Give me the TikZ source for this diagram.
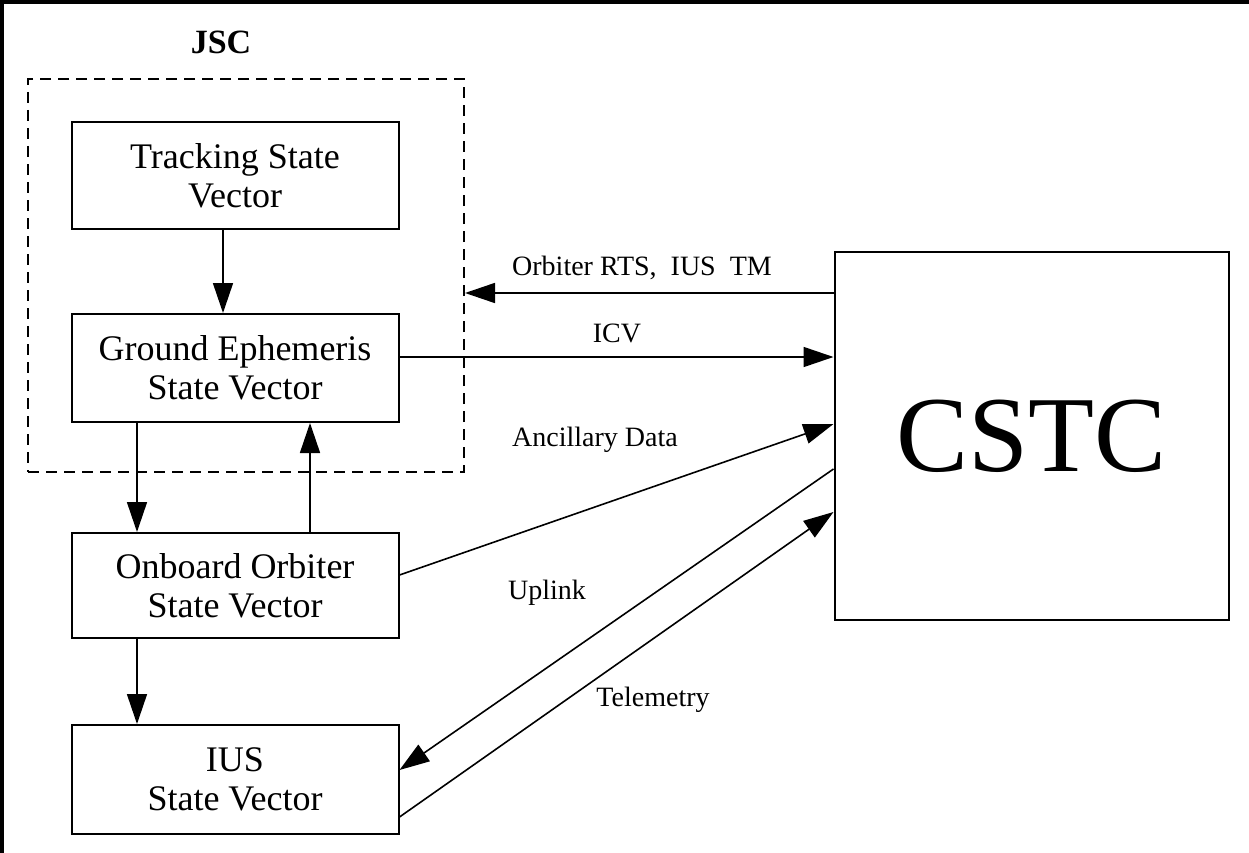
\documentclass[tikz,border=0pt]{standalone}
\usepackage{fontspec}
\setmainfont{Liberation Serif}
\usetikzlibrary{arrows.meta,calc}
\begin{document}
\begin{tikzpicture}[x=1pt,y=-1pt,
  box/.style={draw,line width=2pt,minimum width=327pt,align=center,
    font=\fontsize{36}{39}\selectfont,inner sep=0pt},
  lbl/.style={font=\fontsize{28}{32}\selectfont,inner sep=0pt},
  arr/.style={line width=1.6pt,-{Triangle[length=30pt,width=20pt]}},
  frame/.style={line width=4pt}]
\useasboundingbox (0,0) rectangle (1249,853);
% outer frame (top and left only)
\draw[frame] (0,2) -- (1249,2);
\draw[frame] (2,0) -- (2,853);
% JSC group
\node[font=\bfseries\fontsize{34}{40}\selectfont,inner sep=0pt] (jsc) at (221,42) {JSC};
\node[draw,line width=2pt,dash pattern=on 11pt off 7pt,minimum width=436pt,
  minimum height=393pt,inner sep=0pt] (jscbox) at (246,275.5) {};
% boxes
\node[box,minimum height=107pt] (track) at (235,175.5) {Tracking State\\Vector};
\node[box,minimum height=108pt] (ground) at (235,368) {Ground Ephemeris\\State Vector};
\node[box,minimum height=105pt] (onboard) at (235,585.5) {Onboard Orbiter\\State Vector};
\node[box,minimum height=109pt] (ius) at (235,779.5) {IUS\\State Vector};
\node[draw,line width=2pt,minimum width=394pt,minimum height=368pt,
  font=\fontsize{108}{110}\selectfont,inner sep=0pt] (cstc) at (1031.5,436) {CSTC};
% vertical connectors
\draw[arr] ([xshift=-12pt]track.south) -- ([xshift=-12pt]ground.north);
\draw[arr] ([xshift=-98pt]ground.south) -- ([xshift=-98pt]onboard.north);
\draw[arr] ([xshift=75pt]onboard.north) -- ([xshift=75pt]ground.south);
\draw[arr] ([xshift=-98pt]onboard.south) -- ([xshift=-98pt]ius.north);
% CSTC connectors
\coordinate (c1) at ([yshift=143pt]cstc.west);
\draw[arr] (c1) -- (jscbox.east |- c1);
\draw[arr] ([yshift=11pt]ground.east) -- ([yshift=79pt]cstc.west);
\draw[arr] ([yshift=10.5pt]onboard.east) -- ([yshift=12pt]cstc.west);
\draw[arr] ([yshift=-33pt]cstc.west) -- ([yshift=9.5pt]ius.east);
\draw[arr] ([yshift=-37.5pt]ius.east) -- ([yshift=-76pt]cstc.west);
% labels
\node[lbl] (l1) at (642,268) {Orbiter RTS,\ \ IUS\ \ TM};
\node[lbl] (l2) at (617,333) {ICV};
\node[lbl] (l3) at (595,440) {Ancillary Data};
\node[lbl] (l4) at (547,593) {Uplink};
\node[lbl] (l5) at (653,700) {Telemetry};
\end{tikzpicture}
\end{document}
